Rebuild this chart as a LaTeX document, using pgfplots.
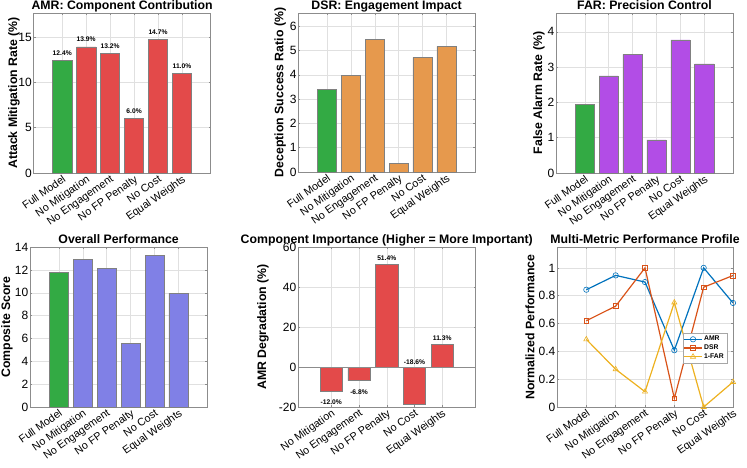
\documentclass[border=0pt]{standalone}
\usepackage{pgfplots}
\pgfplotsset{compat=1.18}
\usepackage{fontspec}
\setmainfont{Liberation Sans}
\definecolor{cgreen}{RGB}{51,170,68}
\definecolor{cred}{RGB}{227,74,74}
\definecolor{corange}{RGB}{230,153,77}
\definecolor{cpurple}{RGB}{178,77,230}
\definecolor{cblue}{RGB}{128,128,230}
\definecolor{mblue}{RGB}{0,114,189}
\definecolor{morange}{RGB}{217,83,25}
\definecolor{myellow}{RGB}{237,177,32}
\newcommand{\tfont}{\fontsize{12.3}{14}\selectfont\bfseries}
\newcommand{\lfont}{\fontsize{12.3}{14}\selectfont\bfseries}
\newcommand{\kfont}{\fontsize{12}{13}\selectfont}
\newcommand{\xfont}{\fontsize{10.8}{12}\selectfont}
\newcommand{\vfont}{\fontsize{6.7}{8}\selectfont\bfseries}
\pgfplotsset{
  base/.style={
    scale only axis, anchor=south west,
    axis line style={black!45},
    every tick/.style={black!45, line width=0.4pt},
    major tick length=2pt, tick align=inside,
    grid=major, major grid style={black!12, line width=0.4pt},
    /pgf/number format/assume math mode=true,
    yticklabel style={font=\kfont, inner sep=1.5pt},
    xticklabel style={font=\xfont, rotate=35, anchor=north east, inner sep=1pt},
    every axis title/.style={at={(0.5,1)}, anchor=base, yshift=4pt, font=\tfont},
    clip=false,
  },
  yl/.style={every axis y label/.style={at={(axis description cs:0,0.5)}, xshift=#1, rotate=90, anchor=center, font=\lfont}},
  bars/.style={ybar, bar width=0.8, bar shift=0pt, draw=black!50, line width=0.5pt},
  cats/.style={xtick={1,2,3,4,5,6}, xticklabels={Full Model,No Mitigation,No Engagement,No FP Penalty,No Cost,Equal Weights}},
}
\begin{document}
\begin{tikzpicture}[x=1pt,y=1pt]
\useasboundingbox (0,0) rectangle (747,467);
% Panel 1
\begin{axis}[base, cats, yl=-19.5pt, at={(33.5pt,294pt)}, width=177.2pt, height=160pt,
  xmin=-0.2, xmax=7.2, ymin=0, ymax=17.64, ytick={0,5,10,15},
  title={AMR: Component Contribution},
  ylabel={Attack Mitigation Rate (\%)}]
\addplot[bars, fill=cgreen] coordinates {(1,12.4)};
\addplot[bars, fill=cred] coordinates {(2,13.9) (3,13.2) (4,6.0) (5,14.7) (6,11.0)};
\node[font=\vfont] at (axis cs:1,13.2) {12.4\%};
\node[font=\vfont] at (axis cs:2,14.7) {13.9\%};
\node[font=\vfont] at (axis cs:3,14.0) {13.2\%};
\node[font=\vfont] at (axis cs:4,6.8) {6.0\%};
\node[font=\vfont] at (axis cs:5,15.5) {14.7\%};
\node[font=\vfont] at (axis cs:6,11.8) {11.0\%};
\end{axis}
% Panel 2
\begin{axis}[base, cats, yl=-18pt, at={(298.3pt,295pt)}, width=176.7pt, height=159pt,
  xmin=-0.2, xmax=7.2, ymin=0, ymax=6.54, ytick={0,1,2,3,4,5,6},
  title={DSR: Engagement Impact},
  ylabel={Deception Success Ratio (\%)}]
\addplot[bars, fill=cgreen] coordinates {(1,3.40)};
\addplot[bars, fill=corange] coordinates {(2,3.97) (3,5.46) (4,0.34) (5,4.71) (6,5.17)};
\end{axis}
% Panel 3
\begin{axis}[base, cats, yl=-17pt, at={(556pt,294pt)}, width=177pt, height=160pt,
  xmin=-0.2, xmax=7.2, ymin=0, ymax=4.53, ytick={0,1,2,3,4},
  title={FAR: Precision Control},
  ylabel={False Alarm Rate (\%)}]
\addplot[bars, fill=cgreen] coordinates {(1,1.96)};
\addplot[bars, fill=cpurple] coordinates {(2,2.75) (3,3.36) (4,0.94) (5,3.77) (6,3.09)};
\end{axis}
% Panel 4
\begin{axis}[base, cats, yl=-23pt, at={(30pt,60pt)}, width=177.3pt, height=160pt,
  xmin=-0.2, xmax=7.2, ymin=0, ymax=14, ytick={0,2,4,6,8,10,12,14},
  title={Overall Performance},
  ylabel={Composite Score}]
\addplot[bars, fill=cgreen] coordinates {(1,11.75)};
\addplot[bars, fill=cblue] coordinates {(2,12.89) (3,12.10) (4,5.57) (5,13.30) (6,9.97)};
\end{axis}
% Panel 5
\begin{axis}[base, yl=-35pt, at={(298pt,60pt)}, width=177.5pt, height=160pt,
  xtick={1,2,3,4,5}, xticklabels={No Mitigation,No Engagement,No FP Penalty,No Cost,Equal Weights},
  xmin=-0.2, xmax=6.2, ymin=-20, ymax=60, ytick={-20,0,20,40,60},
  title={Component Importance (Higher = More Important)},
  ylabel={AMR Degradation (\%)}]
\addplot[bars, fill=cred] coordinates {(1,-12.0) (2,-6.8) (3,51.4) (4,-18.6) (5,11.3)};
\addplot[black!45, line width=0.5pt, no marks] coordinates {(-0.2,0) (6.2,0)};
\node[font=\vfont] at (axis cs:1,-17.5) {-12.0\%};
\node[font=\vfont] at (axis cs:2,-12.6) {-6.8\%};
\node[font=\vfont] at (axis cs:3,54.2) {51.4\%};
\node[font=\vfont] at (axis cs:4,2.2) {-18.6\%};
\node[font=\vfont] at (axis cs:5,14.3) {11.3\%};
\end{axis}
% Panel 6
\begin{axis}[base, cats, yl=-27pt, at={(557pt,60pt)}, width=176pt, height=160pt,
  xmin=0, xmax=6, ymin=0, ymax=1.15, ytick={0,0.2,0.4,0.6,0.8,1},
  yticklabels={0,0.2,0.4,0.6,0.8,1},
  title={Multi-Metric Performance Profile},
  ylabel={Normalized Performance},
  legend style={at={(0.966,0.4625)}, anchor=north east, font=\fontsize{6.8}{8}\selectfont\bfseries,
    draw=black!35, inner sep=1pt, row sep=-1.5pt, legend cell align=left},
  legend image post style={line width=1.2pt}]
\addplot[mblue, line width=1.2pt, mark=o, mark size=2.7pt, mark options={line width=0.6pt}]
  coordinates {(1,0.843) (2,0.946) (3,0.898) (4,0.408) (5,1.0) (6,0.748)};
\addlegendentry{AMR}
\addplot[morange, line width=1.2pt, mark=square, mark size=2.4pt, mark options={line width=0.6pt}]
  coordinates {(1,0.620) (2,0.725) (3,1.0) (4,0.062) (5,0.861) (6,0.945)};
\addlegendentry{DSR}
\addplot[myellow, line width=1.2pt, mark=triangle, mark size=3pt, mark options={line width=0.6pt}]
  coordinates {(1,0.486) (2,0.271) (3,0.110) (4,0.751) (5,0.0) (6,0.180)};
\addlegendentry{1-FAR}
\end{axis}
\end{tikzpicture}
\end{document}
